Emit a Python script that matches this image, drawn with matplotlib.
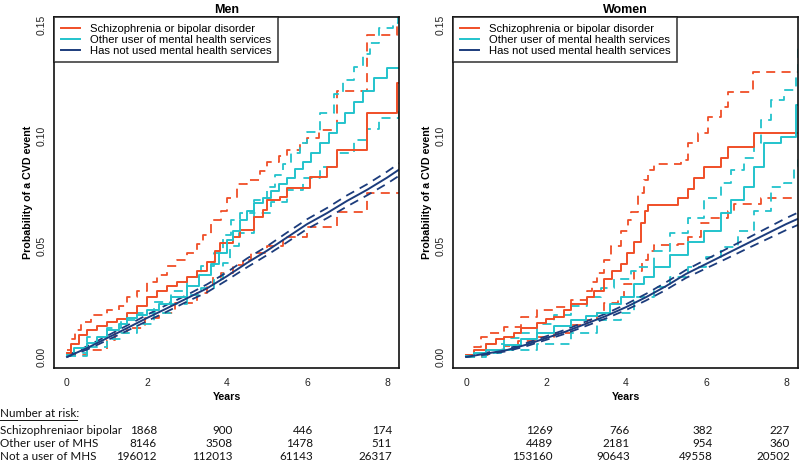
import matplotlib
matplotlib.use("Agg")
import matplotlib.pyplot as plt

########### data (years, probability)

# Men
m_scz_t = [0, 0.1, 0.3, 0.5, 0.75, 1.0, 1.25, 1.5, 1.75, 2.0, 2.25, 2.5, 2.75, 3.0, 3.25, 3.5, 3.7,
           3.825, 4.16, 4.33, 4.67, 4.91, 5.0, 5.33, 5.5, 6.08, 6.5, 6.75, 7.5, 8.25, 8.33]
m_scz = [0.002, 0.006, 0.010, 0.012, 0.014, 0.016, 0.017, 0.020, 0.023, 0.027, 0.030, 0.032, 0.034, 0.036,
         0.039, 0.043, 0.048, 0.0514, 0.0544, 0.0574, 0.0634, 0.0664, 0.0709, 0.0724, 0.0762, 0.0815, 0.086,
         0.0935, 0.110, 0.124, 0.124]
m_scz_hi_t = [0, 0.1, 0.2, 0.35, 0.6, 1.0, 1.3, 1.5, 1.75, 2.0, 2.25, 2.5, 2.75, 3.0, 3.25, 3.4, 3.6, 3.85,
              4.0, 4.25, 4.5, 4.83, 5.0, 5.3, 5.5, 5.83, 6.0, 6.3, 6.75, 7.5, 8.25, 8.33]
m_scz_hi = [0.003, 0.008, 0.012, 0.016, 0.019, 0.021, 0.023, 0.027, 0.030, 0.034, 0.037, 0.041, 0.044, 0.047,
            0.051, 0.055, 0.062, 0.066, 0.072, 0.078, 0.080, 0.084, 0.088, 0.091, 0.0935, 0.0967, 0.099, 0.1026,
            0.120, 0.1455, 0.151, 0.151]
m_scz_lo_t = [0, 0.5, 1.0, 1.2, 1.5, 1.95, 2.3, 2.7, 3.25, 3.5, 3.65, 3.85, 4.15, 4.4, 4.6, 5.0, 5.4, 6.0,
              6.75, 7.5, 8.33]
m_scz_lo = [0.001, 0.003, 0.0077, 0.011, 0.013, 0.0176, 0.020, 0.0244, 0.029, 0.032, 0.036, 0.038, 0.0415,
            0.044, 0.047, 0.050, 0.054, 0.0587, 0.0655, 0.074, 0.074]

m_oth_t = [0, 0.18, 0.5, 0.75, 1.0, 1.3, 1.5, 1.75, 2.0, 2.3, 2.6, 3.0, 3.3, 3.6, 3.8, 4.0, 4.15, 4.33,
           4.5, 4.67, 4.9, 5.1, 5.3, 5.5, 5.7, 5.9, 6.1, 6.33, 6.55, 6.75, 6.95, 7.17, 7.4, 7.67, 8.0, 8.33]
m_oth = [0.001, 0.004, 0.0065, 0.009, 0.012, 0.015, 0.0175, 0.019, 0.021, 0.024, 0.027, 0.032, 0.037,
         0.042, 0.047, 0.053, 0.057, 0.062, 0.066, 0.0696, 0.072, 0.075, 0.078, 0.081, 0.085, 0.088, 0.092,
         0.0967, 0.101, 0.1057, 0.110, 0.115, 0.120, 0.126, 0.1306, 0.1306]
m_oth_hi_t = [0, 0.5, 1.0, 1.35, 1.75, 2.18, 2.6, 3.0, 3.35, 3.68, 3.9, 4.1, 4.33, 4.67, 5.0, 5.2, 5.4, 5.6,
              5.83, 6.0, 6.33, 6.67, 6.9, 7.17, 7.4, 7.58, 7.8, 8.15, 8.28, 8.33]
m_oth_hi = [0.002, 0.009, 0.013, 0.0167, 0.020, 0.0249, 0.030, 0.036, 0.041, 0.047, 0.055, 0.062, 0.065,
            0.071, 0.077, 0.082, 0.087, 0.092, 0.0967, 0.1017, 0.110, 0.119, 0.125, 0.131, 0.137, 0.142,
            0.1487, 0.151, 0.155, 0.155]
m_oth_lo_t = [0, 0.5, 1.0, 1.35, 1.75, 2.18, 2.6, 3.0, 3.35, 3.68, 3.9, 4.08, 4.3, 4.67, 5.1, 5.5, 5.9,
              6.33, 6.75, 7.17, 7.5, 7.8, 8.3, 8.33]
m_oth_lo = [0.0005, 0.0045, 0.008, 0.011, 0.015, 0.020, 0.024, 0.028, 0.031, 0.035, 0.0425, 0.050, 0.056,
            0.065, 0.070, 0.0755, 0.081, 0.086, 0.092, 0.098, 0.103, 0.108, 0.111, 0.111]

m_non_t = [0, 0.5, 1, 1.5, 2, 2.5, 3, 3.5, 4, 4.5, 5, 5.5, 6, 6.5, 7, 7.5, 8, 8.33]
m_non = [0, 0.004, 0.0085, 0.013, 0.0176, 0.022, 0.0265, 0.031, 0.0365, 0.0425, 0.048, 0.054, 0.060,
         0.065, 0.0705, 0.0755, 0.081, 0.085]
m_non_hi = [0.0005, 0.0048, 0.0095, 0.0142, 0.019, 0.0236, 0.028, 0.0328, 0.0383, 0.0445, 0.050, 0.0562,
            0.0622, 0.0673, 0.073, 0.078, 0.0837, 0.0878]
m_non_lo = [0, 0.0033, 0.0075, 0.0118, 0.0162, 0.0205, 0.025, 0.0292, 0.0347, 0.0405, 0.046, 0.0518,
            0.0578, 0.0627, 0.068, 0.073, 0.0783, 0.0822]

# Women
w_scz_t = [0, 0.2, 0.5, 0.75, 0.95, 1.2, 1.37, 1.78, 2.0, 2.2, 2.45, 2.62, 3.02, 3.2, 3.45, 3.65, 3.87,
           4.03, 4.2, 4.37, 4.47, 4.55, 5.3, 5.55, 5.7, 5.95, 6.37, 6.55, 7.2, 8.37]
w_scz = [0.001, 0.003, 0.006, 0.008, 0.009, 0.011, 0.013, 0.0154, 0.017, 0.018, 0.021, 0.024, 0.027,
         0.030, 0.035, 0.039, 0.042, 0.047, 0.052, 0.0605, 0.066, 0.0687, 0.072, 0.076, 0.081, 0.086, 0.090,
         0.095, 0.101, 0.101]
w_scz_hi_t = [0, 0.2, 0.37, 0.6, 0.95, 1.37, 1.78, 2.2, 2.62, 3.02, 3.15, 3.28, 3.45, 3.62, 3.87, 4.05,
              4.12, 4.3, 4.45, 4.55, 4.7, 5.37, 5.55, 5.8, 6.05, 6.37, 6.55, 7.17, 8.37]
w_scz_hi = [0.001, 0.0045, 0.009, 0.011, 0.0135, 0.018, 0.021, 0.0226, 0.0258, 0.030, 0.034, 0.038, 0.044,
            0.050, 0.057, 0.062, 0.0655, 0.074, 0.080, 0.0845, 0.087, 0.089, 0.0967, 0.101, 0.1085, 0.113,
            0.1198, 0.1288, 0.1288]
w_scz_lo_t = [0, 0.4, 0.6, 0.95, 1.3, 1.78, 2.2, 2.62, 3.02, 3.28, 3.45, 3.8, 3.95, 4.2, 4.4, 4.55, 4.7,
              5.3, 5.55, 5.87, 6.1, 6.55, 6.7, 7.37, 8.37]
w_scz_lo = [0, 0.001, 0.003, 0.005, 0.007, 0.009, 0.011, 0.0145, 0.0167, 0.020, 0.0244, 0.027, 0.033,
            0.039, 0.044, 0.048, 0.0506, 0.051, 0.054, 0.0605, 0.063, 0.066, 0.069, 0.072, 0.072]

w_oth_t = [0, 0.2, 0.5, 0.95, 1.37, 1.78, 2.2, 2.62, 3.0, 3.28, 3.6, 3.87, 4.2, 4.45, 4.7, 5.1, 5.55, 5.95,
           6.37, 6.62, 6.95, 7.2, 7.45, 7.87, 8.25, 8.37]
w_oth = [0.0005, 0.0018, 0.003, 0.0054, 0.008, 0.011, 0.014, 0.0167, 0.0185, 0.020, 0.024, 0.027, 0.033,
         0.036, 0.0407, 0.046, 0.052, 0.057, 0.065, 0.071, 0.077, 0.086, 0.0967, 0.0994, 0.114, 0.114]
w_oth_hi_t = [0, 0.5, 0.95, 1.37, 1.78, 2.2, 2.62, 3.02, 3.37, 3.7, 4.12, 4.3, 4.7, 5.1, 5.55, 5.95, 6.37,
              6.62, 6.95, 7.2, 7.37, 7.62, 7.95, 8.25, 8.3, 8.37]
w_oth_hi = [0.001, 0.006, 0.0085, 0.011, 0.015, 0.019, 0.023, 0.027, 0.031, 0.035, 0.039, 0.0407, 0.048,
            0.056, 0.063, 0.072, 0.0786, 0.0845, 0.090, 0.0967, 0.107, 0.116, 0.1206, 0.1265, 0.140, 0.140]
w_oth_lo_t = [0, 0.5, 1.0, 1.78, 2.62, 3.28, 3.87, 4.2, 4.7, 5.1, 5.55, 6.0, 6.37, 6.8, 7.2, 7.62, 7.95,
              8.2, 8.3, 8.37]
w_oth_lo = [0, 0.0018, 0.003, 0.006, 0.011, 0.0167, 0.020, 0.027, 0.0316, 0.036, 0.0407, 0.045, 0.0497,
            0.057, 0.066, 0.077, 0.0786, 0.086, 0.089, 0.089]

w_non_t = [0, 0.5, 1, 1.5, 2, 2.5, 3, 3.5, 4, 4.5, 5, 5.5, 6, 6.5, 7, 7.5, 8, 8.37]
w_non = [0, 0.0015, 0.003, 0.0055, 0.0085, 0.0115, 0.015, 0.0185, 0.0225, 0.027, 0.032, 0.0375, 0.042,
         0.0465, 0.051, 0.0555, 0.060, 0.063]
w_non_hi = [0.0003, 0.0019, 0.0036, 0.0062, 0.0093, 0.0124, 0.016, 0.0196, 0.0238, 0.0285, 0.0337,
            0.0393, 0.044, 0.0487, 0.0533, 0.058, 0.0627, 0.0658]
w_non_lo = [0, 0.0011, 0.0025, 0.0048, 0.0077, 0.0106, 0.014, 0.0174, 0.0212, 0.0255, 0.0303, 0.0357,
            0.040, 0.0443, 0.0487, 0.053, 0.0573, 0.0602]

legend_labels = ["Schizophrenia or bipolar disorder", "Other user of mental health services",
                 "Has not used mental health services"]
risk_rows = ["Schizophreniaor bipolar", "Other user of MHS", "Not a user of MHS"]
men_risk = [["1868", "900", "446", "174"],
            ["8146", "3508", "1478", "511"],
            ["196012", "112013", "61143", "26317"]]
women_risk = [["1269", "766", "382", "227"],
              ["4489", "2181", "954", "360"],
              ["153160", "90643", "49558", "20502"]]

RED = "#F04E27"
CYAN = "#22C3CC"
NAVY = "#1C3C7C"

W, H = 800, 461
fig = plt.figure(figsize=(8, 4.61), dpi=100)
plt.rcParams['font.family'] = ['Liberation Sans', 'DejaVu Sans']

def fx(px):
    return px / W

def fy(py):
    return 1 - py / H

def panel(left, right, title, groups):
    ax = fig.add_axes([fx(left), fy(368), fx(right - left), (368 - 17) / H])
    dash = dict(dashes=(5, 3.5), lw=1.3)
    for (t, v, hi_t, hi, lo_t, lo, col, step) in groups:
        ds = 'steps-post' if step else 'default'
        ax.plot(hi_t, hi, color=col, drawstyle=ds, **dash)
        ax.plot(lo_t, lo, color=col, drawstyle=ds, **dash)
    lines = []
    for (t, v, hi_t, hi, lo_t, lo, col, step) in groups:
        ds = 'steps-post' if step else 'default'
        l, = ax.plot(t, v, color=col, lw=1.4, drawstyle=ds)
        lines.append(l)
    ax.set_xlim(-0.325, 8.3)
    ax.set_ylim(-0.005, 0.1536)
    ax.set_xticks([0, 2, 4, 6, 8])
    ax.set_yticks([0.0, 0.05, 0.10, 0.15])
    ax.set_yticklabels(["0.00", "0.05", "0.10", "0.15"], rotation=90, va='center')
    ax.tick_params(length=0, labelsize=7.5, colors='#222222')
    ax.tick_params(axis='x', pad=7)
    ax.tick_params(axis='y', pad=5)
    for s in ax.spines.values():
        s.set_linewidth(1.2)
        s.set_color('#111111')
    ax.set_title(title, fontsize=9, fontweight='bold', pad=3)
    ax.set_xlabel("Years", fontsize=7.7, fontweight='bold', labelpad=3)
    ax.set_ylabel("Probability of a CVD event", fontsize=7.7, fontweight='bold', labelpad=3)
    leg = ax.legend(lines, legend_labels, loc='upper left', fontsize=8.1, frameon=True, fancybox=False,
                    borderaxespad=0, handlelength=1.7, handletextpad=0.9, borderpad=0.6,
                    labelspacing=0.08)
    leg.get_frame().set_edgecolor('#111111')
    leg.get_frame().set_linewidth(1.2)
    return ax

panel(54, 399, "Men",
      [(m_scz_t, m_scz, m_scz_hi_t, m_scz_hi, m_scz_lo_t, m_scz_lo, RED, True),
       (m_oth_t, m_oth, m_oth_hi_t, m_oth_hi, m_oth_lo_t, m_oth_lo, CYAN, True),
       (m_non_t, m_non, m_non_t, m_non_hi, m_non_t, m_non_lo, NAVY, False)])
panel(453, 798, "Women",
      [(w_scz_t, w_scz, w_scz_hi_t, w_scz_hi, w_scz_lo_t, w_scz_lo, RED, True),
       (w_oth_t, w_oth, w_oth_hi_t, w_oth_hi, w_oth_lo_t, w_oth_lo, CYAN, True),
       (w_non_t, w_non, w_non_t, w_non_hi, w_non_t, w_non_lo, NAVY, False)])

########### number at risk table
tfont = dict(family=['Lato', 'DejaVu Sans'], fontsize=8.4, color='#111111', va='center')
fig.text(fx(0), fy(413), "Number at risk:", ha='left', **tfont)
fig.add_artist(plt.Line2D([fx(0), fx(77)], [fy(419.5), fy(419.5)], color='#111111', lw=0.7))
row_y = [430, 443, 456]
men_cols = [157, 233, 313, 392]
women_cols = [553, 630, 713, 790]
for i, name in enumerate(risk_rows):
    fig.text(fx(0), fy(row_y[i]), name, ha='left', **tfont)
    for j in range(4):
        fig.text(fx(men_cols[j]), fy(row_y[i]), men_risk[i][j], ha='right', **tfont)
        fig.text(fx(women_cols[j]), fy(row_y[i]), women_risk[i][j], ha='right', **tfont)

fig.savefig("out.png", dpi=100)
